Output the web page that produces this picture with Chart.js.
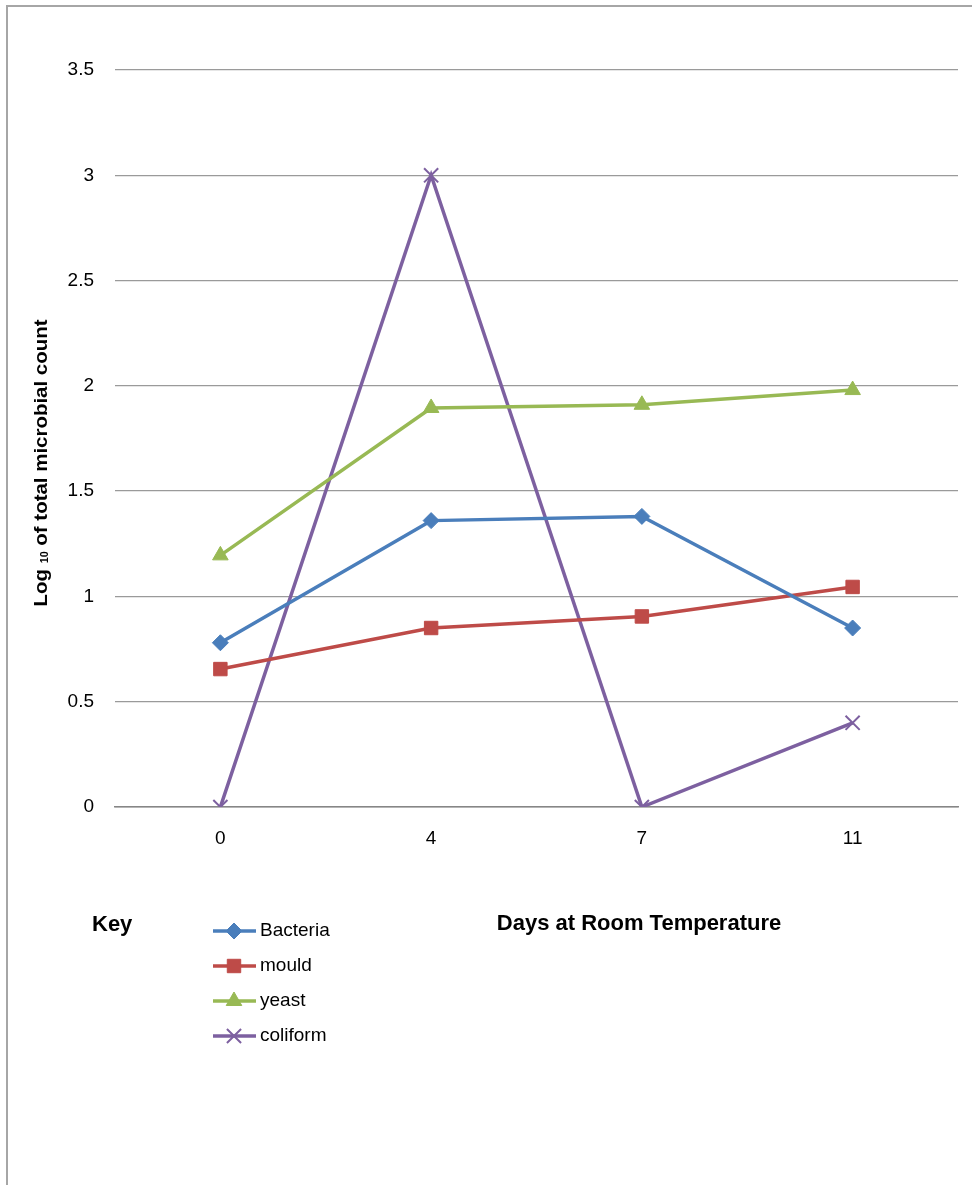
<!DOCTYPE html>
<html>
<head>
<meta charset="utf-8">
<script src="https://cdn.jsdelivr.net/npm/chart.js@4.4.1/dist/chart.umd.min.js"></script>
<style>
  html, body { margin: 0; padding: 0; background: #fff; }
  #wrap { position: relative; width: 972px; height: 1185px; overflow: hidden; }
  #frame { position: absolute; left: 6px; top: 5px; width: 980px; height: 1200px;
           border-left: 2px solid #a6a6a6; border-top: 2px solid #a6a6a6; pointer-events: none; }
  #c { position: absolute; left: 0; top: 0; }
</style>
</head>
<body>
<div id="wrap">
  <canvas id="c" width="972" height="1185"></canvas>
  <div id="frame"></div>
</div>
<script>
// ---- data ----
const days = ['0', '4', '7', '11'];
const bacteria = [0.78, 1.36, 1.38, 0.85];
const mould = [0.655, 0.85, 0.905, 1.045];
const yeast = [1.195, 1.895, 1.91, 1.98];
const coliform = [0, 3.0, 0, 0.40];
const seriesNames = ['Bacteria', 'mould', 'yeast', 'coliform'];
const yMin = 0, yMax = 3.5, yStep = 0.5;
const xTitle = 'Days at Room Temperature';
const keyTitle = 'Key';

const colors = ['#4A7EBB', '#BE4B48', '#98B954', '#7D60A0'];
const styles = ['rectRot', 'rect', 'triangle', 'crossRot'];
const radii = [8, 9.5, 9, 10];

function ds(i, data) {
  return {
    label: seriesNames[i], data: data,
    borderColor: colors[i], backgroundColor: colors[i],
    borderWidth: 3.5, tension: 0,
    pointStyle: styles[i], pointRadius: radii[i],
    pointBackgroundColor: colors[i], pointBorderColor: colors[i],
    pointBorderWidth: styles[i] === 'crossRot' ? 2 : 1
  };
}

const FONT = '"Liberation Sans", Arial, sans-serif';

const extras = {
  id: 'extras',
  afterDraw(chart) {
    const ctx = chart.ctx;
    ctx.save();
    // Y axis title (rotated, with subscript)
    ctx.save();
    ctx.translate(42, 463);
    ctx.rotate(-Math.PI / 2);
    ctx.fillStyle = '#000';
    ctx.textBaseline = 'middle';
    const big = 'bold 19px ' + FONT, small = 'bold 10px ' + FONT;
    ctx.font = big; const w1 = ctx.measureText('Log ').width;
    ctx.font = small; const w2 = ctx.measureText('10').width;
    ctx.font = big; const w3 = ctx.measureText(' of total microbial count').width;
    const total = w1 + w2 + w3;
    const target = 287;
    ctx.scale(target / total, 1);
    let x = -total / 2;
    ctx.textAlign = 'left';
    ctx.font = big; ctx.fillText('Log ', x, 0); x += w1;
    ctx.font = small; ctx.fillText('10', x, 3); x += w2;
    ctx.font = big; ctx.fillText(' of total microbial count', x, 0);
    ctx.restore();

    // Key and x title
    ctx.fillStyle = '#000';
    ctx.textBaseline = 'middle';
    ctx.font = 'bold 22px ' + FONT;
    ctx.textAlign = 'left';
    ctx.fillText(keyTitle, 92, 925);
    ctx.textAlign = 'center';
    ctx.fillText(xTitle, 639, 924);

    // Legend
    chart.data.datasets.forEach((d, i) => {
      const y = 931 + 35 * i;
      ctx.strokeStyle = d.borderColor;
      ctx.lineWidth = 3.5;
      ctx.beginPath(); ctx.moveTo(213, y); ctx.lineTo(256, y); ctx.stroke();
      ctx.fillStyle = d.pointBackgroundColor;
      ctx.strokeStyle = d.pointBorderColor;
      ctx.lineWidth = d.pointBorderWidth;
      Chart.helpers.drawPoint(ctx, { pointStyle: d.pointStyle, radius: d.pointRadius, rotation: 0, borderWidth: d.pointBorderWidth }, 234, y);
      ctx.fillStyle = '#000';
      ctx.font = '19px ' + FONT;
      ctx.textAlign = 'left';
      ctx.textBaseline = 'middle';
      ctx.fillText(d.label, 260, y);
    });
    ctx.restore();
  }
};

new Chart(document.getElementById('c'), {
  type: 'line',
  data: {
    labels: days,
    datasets: [ds(0, bacteria), ds(1, mould), ds(2, yeast), ds(3, coliform)]
  },
  options: {
    responsive: false,
    devicePixelRatio: 1,
    animation: false,
    layout: { padding: { top: 70, right: 14, left: 0, bottom: 0 } },
    plugins: { legend: { display: false }, tooltip: { enabled: false } },
    scales: {
      x: {
        type: 'category', offset: true,
        grid: { display: false, drawTicks: false },
        border: { display: true, color: '#868686', width: 1.5 },
        ticks: { color: '#000', font: { family: FONT, size: 19 }, padding: 20 },
        afterFit(s) { s.height = 1185 - 807; }
      },
      y: {
        min: yMin, max: yMax,
        grid: { color: '#9a9a9a', lineWidth: 1.3, drawTicks: false },
        border: { display: false },
        ticks: { stepSize: yStep, color: '#000', font: { family: FONT, size: 19 }, padding: 21,
                 callback: v => String(v) },
        afterFit(s) { s.width = 115; }
      }
    }
  },
  plugins: [extras]
});
</script>
</body>
</html>
